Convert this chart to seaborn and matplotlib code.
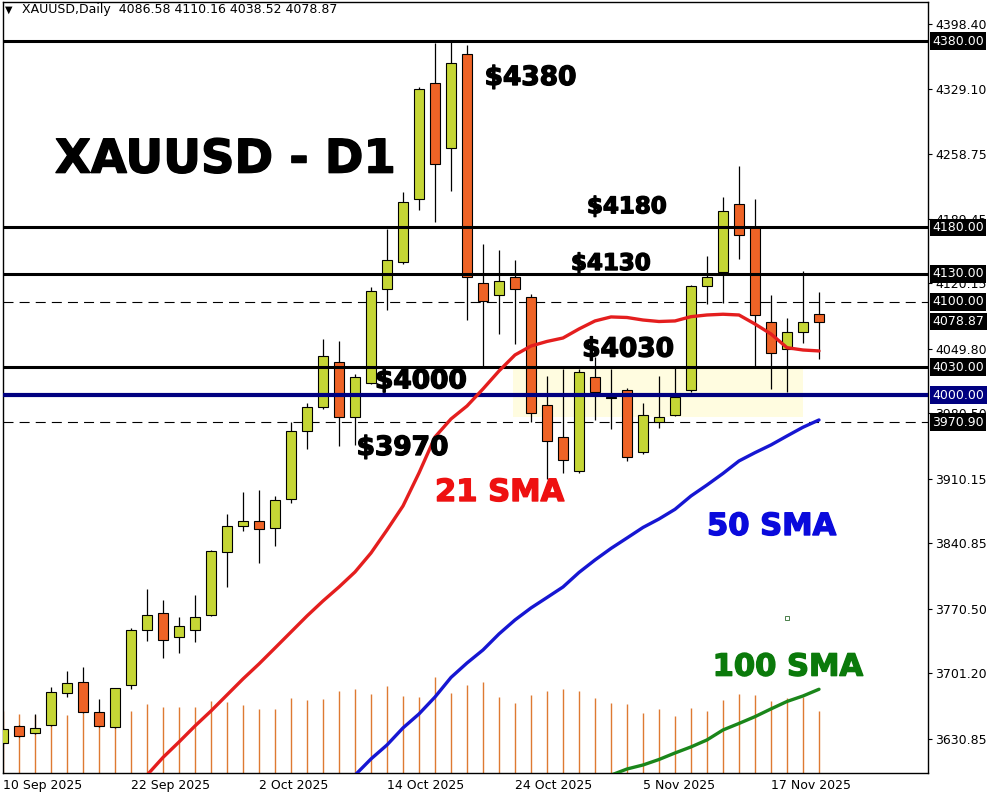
import numpy as np
import pandas as pd
import matplotlib
matplotlib.use('Agg')
import matplotlib.pyplot as plt
import matplotlib.patheffects as pe
import seaborn as sns

# daily candles, 10 Sep 2025 .. 20 Nov 2025 (trading days)
opens = [3627, 3645, 3637, 3645.5, 3680, 3692, 3659.5, 3643.4, 3688.5, 3747.5,
         3766, 3740, 3747.5, 3764, 3832, 3860, 3865, 3857, 3888, 3961,
         3987, 4036, 3977, 4013, 4114, 4143, 4211, 4335, 4265, 4366,
         4120, 4107.5, 4126.5, 4105, 3989, 3955, 3918.5, 4019, 3997, 4005.5,
         3939, 3971.5, 3979, 4006, 4117, 4132, 4205, 4180, 4078, 4049.5,
         4067.5, 4086.58]
highs = [3643, 3646, 3658, 3687, 3704, 3708.5, 3674, 3686, 3750, 3792,
         3780, 3762, 3785, 3834, 3872, 3896, 3898, 3892, 3971, 3991,
         4060, 4058, 4023, 4116, 4178, 4218, 4331, 4378, 4381, 4376,
         4162, 4156, 4145, 4109, 4020, 4028, 4028, 4041, 4028, 4008,
         3991, 4020.5, 4029, 4118, 4149, 4213, 4246, 4211, 4107.5, 4082.5,
         4133.6, 4110.16]
lows = [3625, 3633, 3636, 3645, 3676, 3659, 3644, 3643, 3684, 3736,
        3717.5, 3723, 3735, 3763, 3794, 3854, 3819.5, 3838, 3884.5, 3942,
        3985, 3945, 3946.5, 4012, 4091, 4141, 4199, 4186, 4219.5, 4081,
        4030, 4066, 4055, 3971.5, 3910, 3916, 3916, 3973, 3964, 3929,
        3937, 3965, 3978, 4003.5, 4097.5, 4098.6, 4146, 4031, 4007, 4003.7,
        4055.6, 4038.52]
closes = [3641, 3634, 3643, 3681, 3691, 3659.5, 3645, 3685.3, 3748, 3764,
          3737, 3752, 3761.5, 3833, 3860, 3865, 3856, 3887, 3961, 3987,
          4042, 3976, 4019, 4112, 4145, 4207, 4329, 4248, 4356, 4126.5,
          4101, 4122, 4114, 3980.5, 3951, 3930, 4025, 4003, 3998, 3934,
          3979, 3977, 3998, 4117, 4126.5, 4198, 4171.6, 4086, 4045, 4067.5,
          4078, 4078.87]
# tick volume (thousands)
volume = [217, 207, 203, 196, 203, 210, 207, 214, 217, 242,
          231, 231, 231, 252, 249, 238, 224, 224, 263, 256,
          259, 287, 294, 277, 305, 270, 266, 336, 280, 308,
          319, 266, 245, 273, 287, 294, 287, 263, 245, 242,
          210, 224, 200, 228, 217, 256, 277, 273, 252, 263,
          266, 217]

# moving averages (first visible bar index)
sma21_start = 9
sma21 = [3592, 3611.0, 3627.6, 3644.8, 3660.9, 3678.1, 3695.3, 3711.4, 3728.5, 3745.7,
         3762.9, 3779.0, 3794.0, 3810.1, 3830.5, 3855.2, 3881.0, 3916.4, 3955.0, 3974.4,
         3988.3, 4006.6, 4025.9, 4043.1, 4052.7, 4057.6, 4061.3, 4071.0, 4079.6, 4083.9,
         4083.3, 4080.6, 4079.0, 4079.6, 4084.2, 4086.0, 4086.8, 4086.0, 4076.3, 4065.6,
         4050.9, 4048.4, 4047.4]
sma50_start = 22
sma50 = [3592, 3609.4, 3624.4, 3642.7, 3657.7, 3675.9, 3696.9, 3712.4, 3726.4, 3743.6,
         3758.6, 3771.5, 3782.7, 3794.0, 3809.6, 3823.0, 3835.4, 3846.6, 3857.9, 3867.0,
         3877.4, 3891.7, 3903.5, 3915.9, 3929.3, 3938.2, 3946.5, 3956.1, 3965.5, 3973.3]
sma100_start = 38
sma100 = [3592, 3598.6, 3602.9, 3608.8, 3615.8, 3622.3, 3629.8, 3640.5, 3647.5, 3654.8,
          3663.1, 3671.1, 3677.0, 3684.2]

levels_solid = [4380, 4180, 4130, 4030]
level_blue = 4000
levels_dash = [4100, 3970.9]
zone = (3976.8, 4030)

price_ticks = [4398.40, 4329.10, 4258.75, 4189.45, 4120.15, 4049.80, 3980.50,
               3910.15, 3840.85, 3770.50, 3701.20, 3630.85]
price_tags = [4380.00, 4180.00, 4130.00, 4100.00, 4078.87, 4030.00, 3970.90]
date_ticks = [0, 8, 16, 24, 32, 40, 48]
date_labels = ['10 Sep 2025', '22 Sep 2025', '2 Oct 2025', '14 Oct 2025',
               '24 Oct 2025', '5 Nov 2025', '17 Nov 2025']

sns.set_style('white')
plt.rcParams['font.family'] = ['DejaVu Sans']

fig = plt.figure(figsize=(10, 8), dpi=100)
ax = fig.add_axes([0.003, 0.03375, 0.925, 0.96375])

x = np.arange(len(opens))
o = np.array(opens); h = np.array(highs); l = np.array(lows); c = np.array(closes)

# volume lines along the bottom
vol_top = 2700
ax.vlines(x, 0, np.array(volume) / vol_top, transform=ax.get_xaxis_transform(),
          color='#DE7A32', lw=1.0, zorder=1)

# pale zone
ax.fill_between([31.9, 50.0], zone[0], zone[1], color='#FFFCE0', zorder=0.5, lw=0)

# candles
up = c >= o
ax.vlines(x, l, h, color='black', lw=0.9, zorder=3)
ax.bar(x, np.abs(c - o), bottom=np.minimum(o, c), width=0.62,
       color=np.where(up, '#C5D635', '#EE6326'), edgecolor='black', lw=0.8, zorder=4)

# levels
for lv in levels_solid:
    ax.axhline(lv, color='black', lw=2.2, zorder=5)
ax.axhline(level_blue, color='#000080', lw=3.0, zorder=5)
for lv in levels_dash:
    ax.axhline(lv, color='black', lw=0.8, ls=(0, (9, 5.5)), zorder=2)

# SMAs
rows = []
for name, start, vals in [('21', sma21_start, sma21), ('50', sma50_start, sma50),
                          ('100', sma100_start, sma100)]:
    for i, v in enumerate(vals):
        rows.append({'idx': start + i, 'value': v, 'sma': name})
df_sma = pd.DataFrame(rows)
sns.lineplot(data=df_sma, x='idx', y='value', hue='sma', ax=ax, legend=False,
             palette={'21': '#E41E1E', '50': '#1616D2', '100': '#1A861A'},
             linewidth=2.4, zorder=6)

# labels on chart
stroke = lambda col: [pe.withStroke(linewidth=1.0, foreground=col)]
ax.text(3.25, 4238.8, 'XAUUSD - D1', fontsize=33.5, fontweight='bold', color='black',
        ha='left', va='baseline', zorder=8, path_effects=stroke('black'))
notes = [('$4380', 30.1, 4332.9, 19, 'black'),
         ('$4180', 36.5, 4195.2, 16.5, 'black'),
         ('$4130', 35.5, 4134.3, 16.5, 'black'),
         ('$4030', 36.2, 4041.3, 19, 'black'),
         ('$4000', 23.25, 4007.3, 19, 'black'),
         ('$3970', 22.1, 3935.7, 19, 'black'),
         ('21 SMA', 27.0, 3886.3, 22, '#EE1111'),
         ('50 SMA', 44.0, 3849.8, 22, '#0A0ADC'),
         ('100 SMA', 44.35, 3698.8, 22, '#0B7A0B')]
for txt, tx, ty, fs, col in notes:
    ax.text(tx, ty, txt, fontsize=fs, fontweight='bold', color=col, ha='left',
            va='baseline', zorder=8, path_effects=stroke(col))
ax.plot([48.98], [3761.0], marker='s', ms=2.5, mfc='none', mec='#2E6B2E', mew=0.6, zorder=8)

ax.set_xlim(0, 57.8125)
ax.set_ylim(3594.3, 4422.0)

# right price scale
ax.yaxis.tick_right()
ax.set_yticks(price_ticks)
ax.set_yticklabels(['%.2f' % t for t in price_ticks], fontsize=9, color='black')
ax.tick_params(axis='y', direction='out', length=3, width=0.8, pad=2, color='black')
for t in price_tags:
    ax.annotate('%.2f' % t, xy=(1, t), xycoords=ax.get_yaxis_transform(),
                xytext=(3.2, 0), textcoords='offset points', ha='left', va='center',
                fontsize=9, color='white', annotation_clip=False, zorder=10,
                bbox=dict(boxstyle='square,pad=0.18', fc='black', ec='none'))
ax.annotate('%.2f' % level_blue, xy=(1, level_blue), xycoords=ax.get_yaxis_transform(),
            xytext=(3.2, 0), textcoords='offset points', ha='left', va='center',
            fontsize=9, color='white', annotation_clip=False, zorder=10,
            bbox=dict(boxstyle='square,pad=0.18', fc='#000080', ec='none'))

ax.set_xticks(date_ticks)
ax.set_xticklabels(date_labels, fontsize=9, ha='left', color='black')
ax.tick_params(axis='x', direction='out', length=3, width=0.8, pad=1.5, color='black')
ax.set_xlabel('')
ax.set_ylabel('')
for s in ax.spines.values():
    s.set_color('black')
    s.set_linewidth(1.0)
    s.set_visible(True)

# header
fig.text(0.005, 1 - 10 / 800, '\u25bc', fontsize=7, va='center', ha='left', color='black')
fig.text(0.022, 1 - 10 / 800, 'XAUUSD,Daily  4086.58 4110.16 4038.52 4078.87',
         fontsize=9, va='center', ha='left', color='black')

fig.savefig('out.png', dpi=100, facecolor='white')
